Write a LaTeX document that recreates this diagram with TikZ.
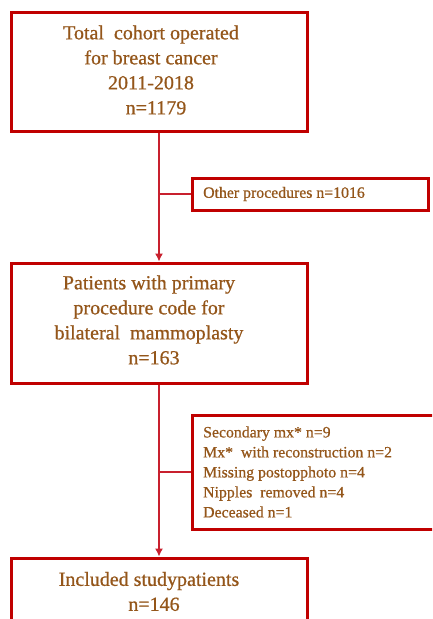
\documentclass[tikz,border=0pt]{standalone}
\usepackage{fontspec}
\setmainfont{Liberation Serif}
\newfontfamily\heavyserif{Liberation Serif}[FakeBold=0.7]
\usetikzlibrary{arrows.meta}
\definecolor{boxred}{HTML}{C00000}
\definecolor{linered}{HTML}{C8202E}
\definecolor{txtbrown}{HTML}{94561A}
\tikzset{
  mainbox/.style={draw=boxred, line width=3pt, minimum width=296pt, inner sep=0pt, fill=white},
  sidebox/.style={draw=boxred, line width=3pt, inner sep=0pt, fill=white},
  maintxt/.style={text=txtbrown, font=\heavyserif\fontsize{20}{25}\selectfont, align=center, inner sep=0pt},
  sidetxt/.style={text=txtbrown, font=\heavyserif\fontsize{15.8}{20}\selectfont, align=left, inner sep=0pt, anchor=west},
  flow/.style={draw=linered, line width=1.3pt},
  arr/.style={flow, -{Latex[length=8pt,width=8pt]}}
}
\begin{document}
\begin{tikzpicture}[x=1pt,y=-1pt]
\clip (0,0) rectangle (432,619);
\fill[white] (0,0) rectangle (432,619);
% main boxes
\node[mainbox, minimum height=119pt] (b1) at (159,71.5) {};
\node[mainbox, minimum height=120pt] (b2) at (159,323) {};
\node[mainbox, minimum height=122pt] (b3) at (159,619) {};
% side boxes
\node[sidebox, minimum width=236pt, minimum height=32pt] (s1) at (310,194) {};
\node[sidebox, minimum width=268pt, minimum height=114pt] (s2) at (326,472) {};
% texts
\node[maintxt] (t1) at (151,70) {Total\ \ cohort operated\\for breast cancer\\2011-2018\\\ \ n=1179};
\node[maintxt] (t2) at (149,320) {Patients with primary\\procedure code for\\bilateral\ \ mammoplasty\\\ \ n=163};
\node[maintxt] (t3) at (149,591.5) {Included studypatients\\\ \ n=146};
\node[sidetxt] (u1) at (203,194) {Other procedures n=1016};
\node[sidetxt] (u2) at (203,472) {Secondary mx* n=9\\Mx*\ \ with reconstruction n=2\\Missing postopphoto n=4\\Nipples\ \ removed n=4\\Deceased n=1};
% connectors
\draw[arr] (b1.south) -- (b2.north);
\draw[arr] (b2.south) -- (b3.north);
\coordinate (j1) at (b1.south |- s1.west);
\coordinate (j2) at (b2.south |- s2.west);
\draw[flow] (j1) -- (s1.west);
\draw[flow] (j2) -- (s2.west);
\end{tikzpicture}
\end{document}
